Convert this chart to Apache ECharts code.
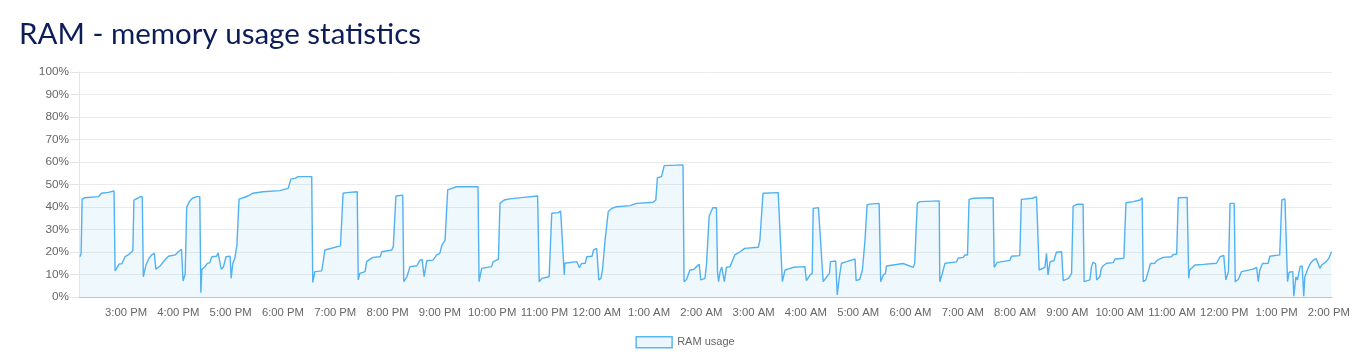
<!DOCTYPE html>
<html>
<head>
<meta charset="utf-8">
<script src="https://cdn.jsdelivr.net/npm/echarts@6/dist/echarts.min.js"></script>
<style>
html,body{margin:0;padding:0;background:#fff;}
#chart{width:1370px;height:357px;}
</style>
</head>
<body>
<div id="chart"></div>
<script>
// time of day in hours (values > 24 are the next day)
const times = [
14.12,14.14,14.16,14.21,14.47,14.53,14.66,14.77,14.79,14.82,14.87,14.92,14.98,15.04,15.13,15.15,15.23,15.27,15.31,15.33,
15.38,15.44,15.49,15.54,15.57,15.65,15.74,15.81,15.94,16.00,16.06,16.09,16.13,16.16,16.21,16.27,16.35,16.41,16.43,16.45,
16.50,16.55,16.60,16.64,16.73,16.76,16.82,16.86,16.91,16.99,17.01,17.04,17.08,17.12,17.16,17.24,17.34,17.42,17.62,17.94,
18.10,18.15,18.23,18.29,18.55,18.57,18.61,18.74,18.77,18.80,18.82,19.10,19.12,19.15,19.22,19.42,19.44,19.47,19.57,19.60,
19.66,19.72,19.86,19.89,20.08,20.11,20.16,20.29,20.31,20.37,20.43,20.56,20.62,20.66,20.70,20.75,20.87,20.94,21.00,21.04,
21.10,21.15,21.23,21.32,21.73,21.75,21.80,21.99,22.02,22.12,22.15,22.23,22.34,22.60,22.87,22.90,22.95,23.09,23.14,23.26,
23.31,23.38,23.39,23.62,23.67,23.71,23.78,23.81,23.91,23.94,24.00,24.03,24.04,24.08,24.11,24.16,24.22,24.29,24.38,24.64,
24.76,25.08,25.13,25.16,25.24,25.29,25.65,25.67,25.72,25.78,25.85,25.91,25.96,25.99,26.07,26.10,26.15,26.18,26.22,26.29,
26.31,26.33,26.36,26.39,26.41,26.44,26.48,26.55,26.64,26.74,26.83,27.09,27.12,27.18,27.47,27.55,27.60,27.76,27.98,28.01,
28.08,28.12,28.14,28.24,28.33,28.40,28.45,28.47,28.57,28.60,28.64,28.68,28.78,28.94,28.96,29.03,29.08,29.13,29.17,29.22,
29.40,29.43,29.48,29.52,29.54,29.86,29.89,30.05,30.08,30.13,30.18,30.55,30.56,30.60,30.66,30.88,30.91,31.01,31.04,31.09,
31.12,31.20,31.58,31.60,31.66,31.90,31.93,32.09,32.12,32.33,32.41,32.44,32.46,32.57,32.60,32.63,32.67,32.74,32.79,32.89,
32.92,33.02,33.08,33.11,33.18,33.30,33.32,33.43,33.46,33.49,33.54,33.56,33.62,33.65,33.68,33.75,33.88,33.91,34.08,34.12,
34.26,34.39,34.43,34.45,34.50,34.59,34.67,34.72,34.83,34.99,35.02,35.09,35.12,35.29,35.32,35.34,35.44,35.60,35.85,35.92,
35.99,36.03,36.08,36.11,36.19,36.21,36.27,36.33,36.55,36.62,36.65,36.68,36.73,36.84,36.87,37.06,37.10,37.16,37.19,37.21,
37.24,37.31,37.33,37.37,37.40,37.45,37.49,37.52,37.54,37.60,37.65,37.70,37.76,37.79,37.83,37.86,37.95,38.00,38.05
];
// RAM usage in percent
const ramUsage = [
17.9,19.4,43.5,44.1,44.6,46.1,46.5,47.1,11.6,11.8,14.7,14.8,17.9,18.7,20.6,43.1,44.0,44.6,44.6,9.0,
14.2,17.2,18.7,19.4,12.4,13.8,16.4,18.1,18.7,20.1,21.2,7.1,10.2,39.9,42.4,43.9,44.6,44.6,1.9,12.3,
13.2,14.8,15.3,17.9,18.1,19.6,12.4,13.2,17.9,18.1,8.3,14.8,17.2,23.1,43.5,44.1,45.0,46.1,46.8,47.3,
48.3,52.4,52.7,53.5,53.5,6.5,11.3,11.6,15.7,20.9,21.2,22.7,23.4,46.1,46.4,46.8,7.6,10.5,11.3,15.7,
16.7,17.6,17.9,20.1,20.9,22.4,44.9,45.3,6.8,9.0,13.5,13.9,16.4,16.7,9.0,16.1,16.4,18.7,19.4,23.1,
25.3,47.6,48.3,49.0,49.0,6.8,12.7,13.5,15.7,16.7,41.6,43.1,43.6,44.3,44.9,6.8,8.3,9.0,37.2,37.5,
38.2,9.8,15.0,15.7,13.0,14.9,15.0,17.9,18.1,20.9,21.6,21.2,7.6,8.3,12.0,25.3,37.9,39.4,40.1,40.6,
41.6,42.1,43.1,53.0,53.5,58.4,58.7,6.8,7.9,12.0,12.2,13.5,14.5,7.6,8.3,14.9,36.0,36.5,39.7,39.7,
11.3,6.8,11.3,13.4,13.4,6.8,13.2,13.5,18.7,20.1,21.6,22.1,25.3,46.1,46.4,6.8,12.0,13.2,13.5,7.3,
9.8,10.5,39.4,39.7,6.8,9.0,10.5,15.7,16.0,0.9,9.0,15.0,15.7,16.9,7.3,7.9,12.0,25.3,40.9,41.3,
41.6,6.8,9.8,10.5,13.8,14.9,15.4,13.2,14.9,41.6,42.4,42.7,6.8,9.8,15.0,15.6,17.2,17.6,18.7,18.7,
43.4,43.9,44.1,13.2,15.4,16.3,18.1,18.4,43.4,43.9,44.6,44.3,12.0,13.2,19.4,9.8,15.7,16.1,19.9,20.1,
7.3,8.3,10.5,40.4,41.2,41.2,6.8,7.6,13.5,15.4,14.8,7.6,9.0,12.7,13.8,15.0,15.3,16.9,17.2,41.9,
42.4,43.1,44.1,6.8,7.6,14.9,15.0,16.4,17.6,17.9,18.8,19.1,44.1,44.3,8.3,12.0,14.2,14.5,15.0,17.9,
18.5,7.6,11.3,41.6,41.6,6.8,7.9,11.3,12.4,13.2,6.8,12.0,14.9,15.0,18.1,18.7,43.1,43.6,43.9,6.8,
11.0,11.3,0.4,9.0,7.6,13.5,13.8,0.4,9.0,12.7,15.0,16.4,17.0,16.9,12.7,14.2,15.7,17.2,20.1
];
const tickLabels = ['3:00 PM','4:00 PM','5:00 PM','6:00 PM','7:00 PM','8:00 PM','9:00 PM','10:00 PM','11:00 PM',
  '12:00 AM','1:00 AM','2:00 AM','3:00 AM','4:00 AM','5:00 AM','6:00 AM','7:00 AM','8:00 AM','9:00 AM','10:00 AM',
  '11:00 AM','12:00 PM','1:00 PM','2:00 PM'];
const firstTickHour = 15;
const seriesName = 'RAM usage';
const titleText = 'RAM - memory usage statistics';

const tickHours = tickLabels.map((_, i) => firstTickHour + i);
const data = times.map((t, i) => [t, ramUsage[i]]);

const chart = echarts.init(document.getElementById('chart'), null, {renderer: 'canvas'});
chart.setOption({
  animation: false,
  backgroundColor: '#fff',
  title: {
    text: titleText,
    left: 14, top: 14,
    textStyle: {fontFamily: 'Lato', fontSize: 29.5, fontWeight: 'normal', color: '#0c1d58'}
  },
  legend: {
    data: [{name: seriesName, icon: 'rect',
      itemStyle: {color: 'rgba(54,162,235,0.1)', borderColor: '#5cb6f2', borderWidth: 1.5}}],
    left: 'center', top: 331,
    itemWidth: 36, itemHeight: 11, itemGap: 10,
    textStyle: {fontFamily: 'Liberation Sans', fontSize: 11, color: '#666'}
  },
  grid: {left: 79, right: 38, top: 72, bottom: 60, containLabel: false},
  xAxis: {
    type: 'value', min: 14.1, max: 38.06,
    axisLine: {show: true, lineStyle: {color: '#c4c4c4', width: 1}},
    axisTick: {show: false},
    splitLine: {show: false},
    axisLabel: {
      customValues: tickHours,
      formatter: v => tickLabels[Math.round(v) - firstTickHour] || '',
      fontFamily: 'Liberation Sans', fontSize: 11.3, color: '#666', margin: 10
    }
  },
  yAxis: {
    type: 'value', min: 0, max: 100, interval: 10,
    axisLine: {show: true, lineStyle: {color: '#e4e4e4'}},
    axisTick: {show: true, length: 9, lineStyle: {color: '#e4e4e4'}},
    splitLine: {show: true, lineStyle: {color: '#ebebeb'}},
    axisLabel: {formatter: '{value}%', fontFamily: 'Liberation Sans', fontSize: 11.8, color: '#666', margin: 10}
  },
  series: [{
    name: seriesName,
    type: 'line',
    data: data,
    showSymbol: false,
    symbol: 'none',
    lineStyle: {color: '#52b1f2', width: 1.4},
    itemStyle: {color: '#52b1f2'},
    areaStyle: {color: 'rgba(54,162,235,0.11)', origin: 'start'}
  }]
});
</script>
</body>
</html>
